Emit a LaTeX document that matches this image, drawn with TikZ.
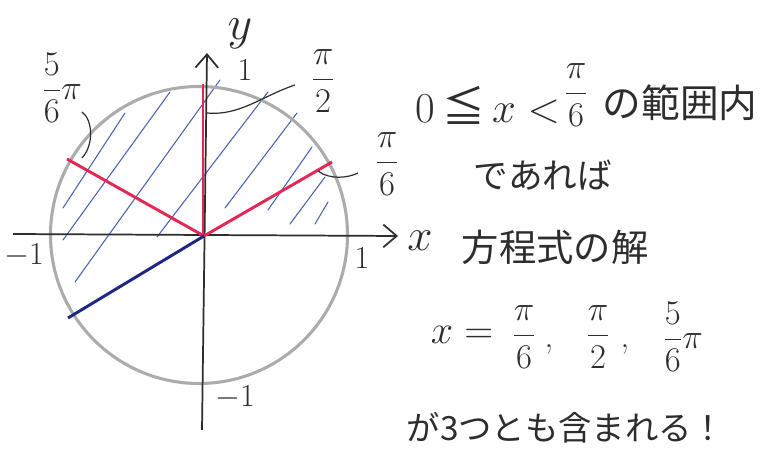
\RequirePackage{fix-cm}
\documentclass[tikz,border=0pt]{standalone}
\usepackage{fontspec}
\newfontfamily\cjk{Noto Sans CJK JP}
\usetikzlibrary{arrows.meta}
\definecolor{pencil}{RGB}{45,45,45}
\definecolor{circgray}{RGB}{172,172,172}
\definecolor{redpen}{RGB}{228,40,85}
\definecolor{navypen}{RGB}{30,40,130}
\definecolor{hatchblue}{RGB}{75,100,180}
\newcommand{\dfr}[2]{\displaystyle\frac{#1}{#2}}
\begin{document}
\begin{tikzpicture}[x=0.75pt,y=-0.75pt,
  axisline/.style={draw=pencil, line width=1.3pt},
  axisarrow/.style={axisline, -{Straight Barb[length=10pt,width=17pt,line width=1.3pt]}},
  unitcirc/.style={draw=circgray, line width=2.3pt},
  redray/.style={draw=redpen, line width=2.2pt},
  blueray/.style={draw=navypen, line width=2.2pt},
  hatchline/.style={draw=hatchblue, line width=0.8pt, line cap=round},
  leader/.style={draw=pencil, line width=0.9pt},
  lbl/.style={text=pencil, inner sep=0pt},
  fracl/.style={lbl, font=\fontsize{26}{30}\selectfont},
  jp/.style={text=pencil, inner sep=0pt, font=\cjk}]
\useasboundingbox (0,0) rectangle (761,459);
\fill[white] (0,0) rectangle (761,459);

% hatching
\foreach \ax/\ay/\bx/\by in {63/208/125/113, 63/240/170/92, 75/282/220/80,
  157/237/268/92, 225/208/297/113, 268/210/312/147, 290/224/325/177, 315/224/328/202}
  \draw[hatchline] (\ax,\ay) -- (\bx,\by);

% unit circle
\coordinate (C) at (199,235);
\draw[unitcirc] (C) circle[radius=148.5];

% axes
\coordinate (xs) at (13,234);
\coordinate (xe) at (398,236);
\coordinate (ys) at (202,430);
\coordinate (ye) at (207,53);
\draw[axisarrow] (xs) -- (xe);
\draw[axisarrow] (ys) -- (ye);

% rays
\coordinate (O) at (204,236);
\coordinate (T) at (203,84);
\coordinate (P30) at (332,162);
\coordinate (P150) at (67,159);
\coordinate (P210) at (68,318);
\draw[redray] (O) -- (203,236) -- (T);
\draw[redray] (O) -- (P30);
\draw[redray] (O) -- (P150);
\draw[blueray] (O) -- (P210);

% leaders
\coordinate (l2a) at (207,113);
\coordinate (l2b) at (295,85);
\draw[leader] (l2a) .. controls (240,116) and (262,96) .. (l2b);
\coordinate (l6a) at (318,171);
\coordinate (l6b) at (358,173);
\draw[leader] (l6a) .. controls (330,180) and (348,178) .. (l6b);
\coordinate (l5a) at (82,112);
\coordinate (l5b) at (82,158);
\draw[leader] (l5a) .. controls (93,120) and (94,145) .. (l5b);

% axis labels
\node[lbl, font=\fontsize{36}{40}\selectfont] (ylab) at (240,34) {$y$};
\node[lbl, font=\fontsize{34}{38}\selectfont] (xlab) at (420,241) {$x$};
\node[lbl, font=\fontsize{24}{28}\selectfont] (one1) at (245,70) {1};
\node[lbl, font=\fontsize{24}{28}\selectfont] (onex) at (362,258) {1};
\node[lbl, font=\fontsize{24}{28}\selectfont] (mone1) at (24,256) {$-1$};
\node[lbl, font=\fontsize{24}{28}\selectfont] (mone2) at (235,398) {$-1$};

% angle labels
\node[fracl] (a2) at (323,81) {$\dfr{\pi}{2}$};
\node[fracl] (a6) at (387,164) {$\dfr{\pi}{6}$};
\node[fracl] (a56) at (62,88) {$\dfr{5}{6}\pi$};

% right text
\node[lbl, font=\fontsize{32}{36}\selectfont] (r1a) at (488,105) {0\,{\cjk ≦}\,$x<$};
\node[fracl] (r1b) at (576,95) {$\dfr{\pi}{6}$};
\node[jp, font=\cjk\fontsize{29}{32}\selectfont] (r1c) at (680,103) {の範囲内};
\node[jp, font=\cjk\fontsize{26}{30}\selectfont] (r2) at (543,175) {であれば};
\node[jp, font=\cjk\fontsize{28}{32}\selectfont] (r3) at (555,247) {方程式の解};
\node[lbl, font=\fontsize{30}{34}\selectfont] (r4a) at (462,335) {$x=$};
\node[fracl] (r4b) at (524,337) {$\dfr{\pi}{6}$};
\node[fracl] (r4c) at (549,349) {,};
\node[fracl] (r4d) at (598,337) {$\dfr{\pi}{2}$};
\node[fracl] (r4e) at (625,349) {,};
\node[fracl] (r4f) at (683,337) {$\dfr{5}{6}\pi$};
\node[jp, font=\cjk\fontsize{25}{30}\selectfont] (r5) at (566,428) {が3つとも含まれる！};
\end{tikzpicture}
\end{document}
